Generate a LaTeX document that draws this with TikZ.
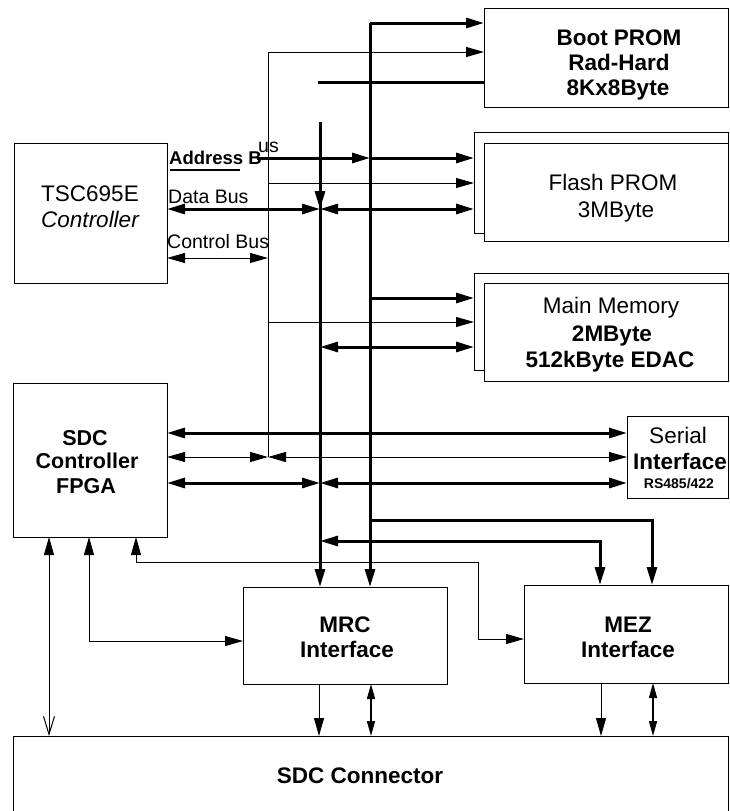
\documentclass[tikz,border=0pt]{standalone}
\usepackage{fontspec}
\setmainfont{Liberation Sans}
\usetikzlibrary{arrows.meta}
\newcommand\bxfont{\fontsize{22.5}{26}\selectfont}
\newcommand\lbfont{\fontsize{19.5}{22}\selectfont}
\begin{document}
\begin{tikzpicture}[x=1pt,y=-1pt,
  >={Triangle[length=18pt,width=10pt]},
  thn/.style={line width=1pt},
  thk/.style={line width=3pt},
  med/.style={line width=1.5pt,{Triangle[length=15pt,width=8pt]}-{Triangle[length=15pt,width=8pt]}},
  box/.style={draw, line width=1pt, fill=white, inner sep=0pt, outer sep=0pt, anchor=north west},
  bt/.style={anchor=base, inner sep=0pt, font=\bxfont},
  btb/.style={anchor=base, inner sep=0pt, font=\bxfont\bfseries},
  lb/.style={anchor=base west, inner sep=0pt, font=\lbfont}]
\path[use as bounding box, fill=white] (0,0) rectangle (730,811);

% boxes
\node[box, minimum width=244pt, minimum height=99pt] (boot) at (484,8) {};
\node[box, minimum width=254pt, minimum height=101pt] (flashout) at (474,132) {};
\node[box, minimum width=244pt, minimum height=98pt] (flash) at (484,143) {};
\node[box, minimum width=254pt, minimum height=97pt] (mainout) at (474,273) {};
\node[box, minimum width=244pt, minimum height=98pt] (main) at (484,283) {};
\node[box, minimum width=101pt, minimum height=82pt] (serial) at (627,416) {};
\node[box, minimum width=153pt, minimum height=140pt] (tsc) at (14,143) {};
\node[box, minimum width=154pt, minimum height=154pt] (sdc) at (13,383) {};
\node[box, minimum width=204pt, minimum height=97pt] (mrc) at (243,587) {};
\node[box, minimum width=204pt, minimum height=98pt] (mez) at (524,585) {};
\node[box, draw=none, fill=none, minimum width=715pt, minimum height=75pt] (conn) at (13,736) {};
\draw[thn] (conn.south west) -- (conn.north west) -- (conn.north east) -- (conn.south east);

% texts
\node[bt] (tx1) at (90,201) {TSC695E};
\node[bt, font=\bxfont\itshape] (tx2) at (90,227) {Controller};
\node[btb] (tx3) at (619,45) {Boot PROM};
\node[btb] (tx4) at (619,70) {Rad-Hard};
\node[btb] (tx5) at (618,95) {8Kx8Byte};
\node[bt] (tx6) at (613,190) {Flash PROM};
\node[bt] (tx7) at (616,217) {3MByte};
\node[bt] (tx8) at (611,313) {Main Memory};
\node[btb] (tx9) at (612,341) {2MByte};
\node[btb] (tx10) at (610,367) {512kByte EDAC};
\node[bt] (tx11) at (678,443) {Serial};
\node[btb] (tx12) at (680,469) {Interface};
\node[anchor=base, inner sep=0pt, font=\fontsize{14}{16}\selectfont\bfseries] (tx13) at (679,488) {RS485/422};
\node[btb, font=\fontsize{21.5}{26}\selectfont\bfseries] (tx14) at (85,445) {SDC};
\node[btb, font=\fontsize{21.5}{26}\selectfont\bfseries] (tx15) at (87,468) {Controller};
\node[btb, font=\fontsize{21.5}{26}\selectfont\bfseries] (tx16) at (86,493) {FPGA};
\node[btb] (tx17) at (345,632) {MRC};
\node[btb] (tx18) at (347,657) {Interface};
\node[btb] (tx19) at (628,632) {MEZ};
\node[btb] (tx20) at (628,657) {Interface};
\node[btb] (tx21) at (360,783) {SDC Connector};

\node[lb, font=\fontsize{18.5}{20}\selectfont\bfseries] (la1) at (169,164) {Address B};
\node[lb] (la2) at (258,152) {us};
\node[lb] (la3) at (168,203) {Data Bus};
\node[lb] (la4) at (167,248) {Control Bus};
\draw[line width=1.5pt] (170,170) -- (240,170);

% bus coordinates
\coordinate (cTop) at (370,23);
\coordinate (aTop) at (268,52);
\coordinate (bTop) at (320,122);
\coordinate (stub) at (318,82);
\coordinate (addr) at (257,158);
\coordinate (jC158) at (370,158);
\coordinate (jA183) at (268,183);
\coordinate (jB209) at (320,209);
\coordinate (jA258) at (268,258);
\coordinate (jC298) at (370,298);
\coordinate (jA322) at (268,322);
\coordinate (jB347) at (320,347);
\coordinate (jC433) at (370,433);
\coordinate (jA457) at (268,457);
\coordinate (jB483) at (320,483);
\coordinate (jC520) at (370,520);
\coordinate (jB541) at (320,541);
\coordinate (m652) at (652,520);
\coordinate (m600) at (600,541);
\coordinate (t1) at (136,562);
\coordinate (t2) at (478,562);
\coordinate (t3) at (478,639);
\coordinate (u1) at (89,641);
\coordinate (v1) at (49,640);
\coordinate (r1) at (319,700);
\coordinate (r2) at (371,700);
\coordinate (r3) at (601,700);
\coordinate (r4) at (653,700);

% vertical buses
\draw[thk,->] (cTop) -- (cTop -| boot.west);
\draw[thk,->] (cTop) -- (cTop |- mrc.north);
\draw[thn,->] (aTop) -- (aTop -| boot.west);
\draw[thn] (aTop) -- (jA457);
\draw[thk] (stub) -- (stub -| boot.west);
\draw[thk,->] (bTop) -- (jB209);
\draw[thk,->] (bTop) -- (bTop |- mrc.north);

% flash prom
\draw[thk,->] (addr) -- (jC158);
\draw[thk,->] (jC158) -- (jC158 -| flashout.west);
\draw[thn,->] (jA183) -- (jA183 -| flashout.west);
\draw[thk,<->] (tsc.east |- jB209) -- (jB209);
\draw[thk,<->] (jB209) -- (jB209 -| flashout.west);
\draw[thn,<->] (tsc.east |- jA258) -- (jA258);

% main memory
\draw[thk,->] (jC298) -- (jC298 -| mainout.west);
\draw[thn,->] (jA322) -- (jA322 -| mainout.west);
\draw[thk,<->] (jB347) -- (jB347 -| mainout.west);

% serial
\draw[thk,<->] (sdc.east |- jC433) -- (jC433 -| serial.west);
\draw[thn,<->] (sdc.east |- jA457) -- (jA457);
\draw[thn,<->] (jA457) -- (jA457 -| serial.west);
\draw[thk,<->] (sdc.east |- jB483) -- (jB483);
\draw[thk,<->] (jB483) -- (jB483 -| serial.west);

% MEZ top
\draw[thk,->] (jC520) -- (m652) -- (m652 |- mez.north);
\draw[thk,<->] (jB541) -- (m600) -- (m600 |- mez.north);

% SDC bottom links
\draw[thn,<->] (t1 |- sdc.south) -- (t1) -- (t2) -- (t3) -- (t3 -| mez.west);
\draw[thn,<->] (u1 |- sdc.south) -- (u1) -- (u1 -| mrc.west);
\draw[thn,{Triangle[length=18pt,width=10pt]}-{Straight Barb[length=18pt,width=11pt,line width=1pt]}] (v1 |- sdc.south) -- (v1 |- conn.north);

% bottom links
\draw[thn,->] (r1 |- mrc.south) -- (r1 |- conn.north);
\draw[med] (r2 |- mrc.south) -- (r2 |- conn.north);
\draw[thn,->] (r3 |- mez.south) -- (r3 |- conn.north);
\draw[med] (r4 |- mez.south) -- (r4 |- conn.north);
\end{tikzpicture}
\end{document}
